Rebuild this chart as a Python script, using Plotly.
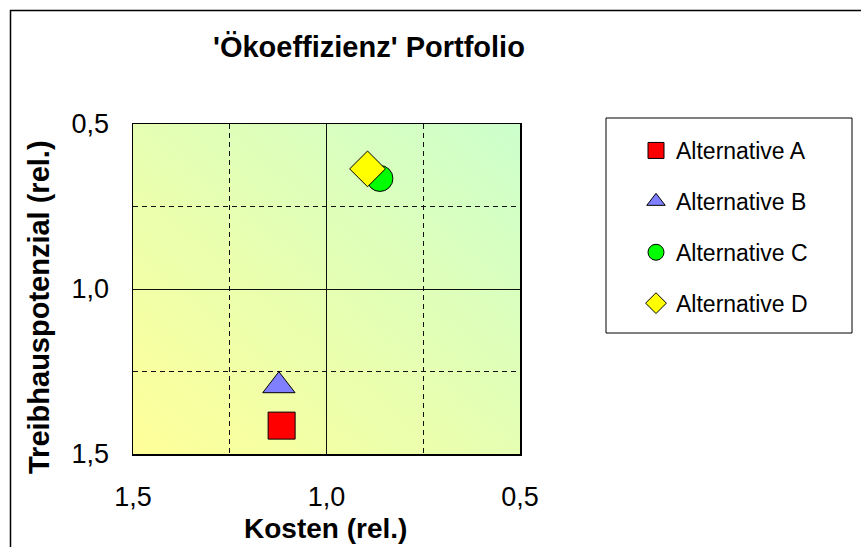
import base64
import plotly.graph_objects as go

# ---- data ----
names = ["Alternative A", "Alternative B", "Alternative C", "Alternative D"]
kosten = [1.116, 1.123, 0.862, 0.894]          # x: Kosten (rel.)
treibhaus = [1.414, 1.293, 0.665, 0.636]       # y: Treibhauspotenzial (rel.)
x_ticks = [1.5, 1.0, 0.5]
y_ticks = [0.5, 1.0, 1.5]

# ---- styles ----
symbols = ["square", "triangle-up", "circle", "diamond"]
colors = ["#FF0000", "#8080FF", "#00FF00", "#FFFF00"]
sizes = [27, 28, 26, 27.5]
FONT = "Liberation Sans, Arial, sans-serif"

W, H = 861, 547
L, R, T, B = 133, 520, 124, 454  # plot area in pixels


def px(x):
    return (x - L) / (R - L)


def py(y):
    return (B - y) / (B - T)


fig = go.Figure()
for i, n in enumerate(names):
    fig.add_trace(go.Scatter(
        x=[kosten[i]], y=[treibhaus[i]], mode="markers", name=n,
        legendgroup=n,
        marker=dict(symbol=symbols[i], color=colors[i], size=sizes[i],
                    line=dict(color="#000000", width=1)),
    ))

svg = ('<svg xmlns="http://www.w3.org/2000/svg" width="100" height="100" '
       'viewBox="0 0 100 100" preserveAspectRatio="none"><defs>'
       '<linearGradient id="g" x1="0" y1="1" x2="1" y2="0">'
       '<stop offset="0" stop-color="#FFFF99"/>'
       '<stop offset="1" stop-color="#CCFFCC"/></linearGradient></defs>'
       '<rect width="100" height="100" fill="url(#g)"/></svg>')
src = "data:image/svg+xml;base64," + base64.b64encode(svg.encode()).decode()

axis_common = dict(
    tickmode="array", tickformat=".1f",
    showgrid=True, gridcolor="#111111", gridwidth=1,
    minor=dict(tickmode="linear", tick0=0.5, dtick=0.25, showgrid=True,
               gridcolor="#111111", gridwidth=1, griddash="5px,4px"),
    showline=True, mirror=True, linecolor="#000000", linewidth=1.5,
    zeroline=False, ticks="",
    tickfont=dict(family=FONT, size=27, color="#000000"),
)

fig.update_layout(
    width=W, height=H, autosize=False,
    margin=dict(l=L, r=W - R, t=T, b=H - B, pad=0),
    paper_bgcolor="#FFFFFF", plot_bgcolor="rgba(0,0,0,0)",
    separators=",.",
    font=dict(family=FONT, color="#000000"),
    xaxis=dict(range=[1.5, 0.5], tickvals=x_ticks, ticklabelstandoff=18,
               **axis_common),
    yaxis=dict(range=[1.5, 0.5], tickvals=y_ticks, ticklabelstandoff=17,
               **axis_common),
    images=[dict(source=src, xref="paper", yref="paper", x=0, y=1,
                 sizex=1, sizey=1, xanchor="left", yanchor="top",
                 sizing="stretch", layer="below")],
    showlegend=True,
    legend=dict(x=px(636), y=py(129), xanchor="left", yanchor="top",
                bgcolor="rgba(0,0,0,0)", borderwidth=0,
                font=dict(family=FONT, size=23, color="#000000"),
                tracegroupgap=18),
    shapes=[
        dict(type="rect", xref="paper", yref="paper",
             x0=px(10.5), x1=px(900), y0=py(600), y1=py(10.5),
             line=dict(color="#000000", width=1.5), layer="above"),
        dict(type="rect", xref="paper", yref="paper",
             x0=px(606), x1=px(852), y0=py(333), y1=py(118),
             line=dict(color="#000000", width=1), layer="above"),
    ],
    annotations=[
        dict(text="<b>'Ökoeffizienz' Portfolio</b>", xref="paper", yref="paper",
             x=px(369), y=py(47), xanchor="center", yanchor="middle",
             showarrow=False, font=dict(family=FONT, size=29, color="#000000")),
        dict(text="<b>Kosten (rel.)</b>", xref="paper", yref="paper",
             x=px(325), y=py(528), xanchor="center", yanchor="middle",
             showarrow=False, font=dict(family=FONT, size=28, color="#000000")),
        dict(text="<b>Treibhauspotenzial (rel.)</b>", xref="paper", yref="paper",
             x=px(39), y=py(307), xanchor="center", yanchor="middle",
             textangle=-90, showarrow=False,
             font=dict(family=FONT, size=29, color="#000000")),
    ],
)

fig.write_html("out.html",
               config={"displayModeBar": False, "staticPlot": True},
               post_script="document.body.style.margin='0px';"
                           "document.body.style.overflow='hidden';")
